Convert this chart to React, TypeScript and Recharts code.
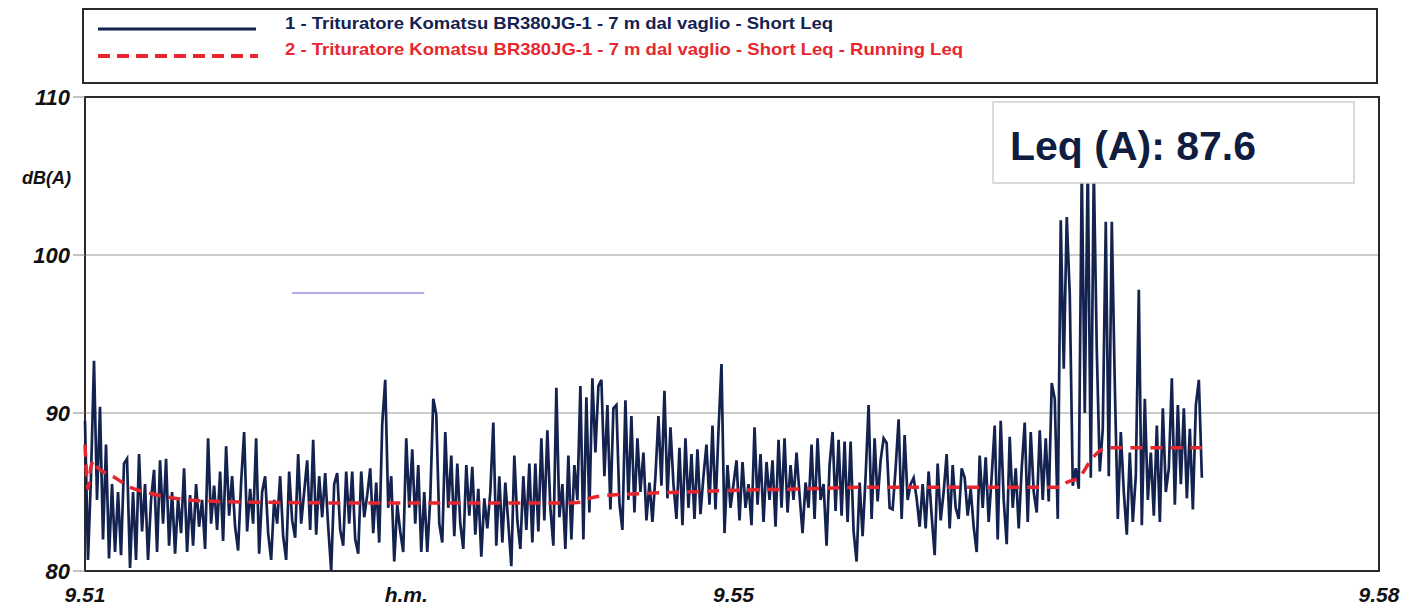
import { LineChart, Line, XAxis, YAxis, CartesianGrid, ReferenceArea, ReferenceLine } from 'recharts';

// Short Leq, one sample every ~3 px of the original plot (dB(A))
const shortLeq = [
  89.5, 80.7, 86, 93.3, 84.5, 90.4, 82, 88, 80.8, 85.5, 81.2, 85, 81, 86.8, 87.1, 80.2, 85, 80.7, 87.4, 82.5,
  85.5, 80.7, 84.5, 86.4, 81.2, 87, 83, 87.1, 81.6, 85, 81.1, 84.6, 82.4, 86.5, 81.2, 84.8, 81.6, 85.5, 82.8, 84.5,
  81.4, 88.4, 83, 85.4, 82.6, 86.3, 81.9, 87.9, 83.5, 86, 82.8, 81.3, 85.6, 88.8, 82.5, 85.2, 83, 88.4, 81.1, 85,
  86, 82.4, 80.7, 84.5, 83, 86, 82.2, 80.7, 86.3, 83.2, 82.1, 87.4, 83, 85, 87, 82.6, 88.3, 82.3, 86, 83.4,
  86.2, 82.8, 80, 85.5, 86.2, 82.6, 81.6, 86.3, 83, 86.3, 82, 81.1, 86.3, 83.4, 84.8, 86.5, 82.4, 85.6, 81.8, 89.3,
  92.1, 84, 86, 80.6, 84.2, 82.5, 81.2, 88.4, 84, 87.7, 83, 86.7, 81.2, 85, 81.2, 84.6, 90.9, 89.9, 83, 81.8,
  88.8, 84, 87.3, 82.2, 86.8, 83, 81.4, 86.7, 83.5, 86.6, 82.3, 85.2, 80.9, 84.6, 82.7, 85, 89.4, 81.6, 86, 81.8,
  85.6, 83, 80.3, 87.3, 83.2, 81.4, 86, 82.6, 86.8, 81.8, 86.8, 82.5, 88.4, 83.2, 88.9, 84, 81.6, 91.6, 83.4, 85.5,
  81.4, 87.3, 82, 86.7, 84.5, 91.7, 82, 91, 83.7, 92.2, 87.5, 91.7, 92.1, 86, 90.5, 83.9, 90.3, 90.5, 84.3, 82.6,
  90.8, 84.5, 89.8, 83.7, 88.4, 85, 87.5, 83.2, 85.6, 83.1, 86, 89.8, 85.4, 91.4, 84.6, 89.1, 85.5, 83.3, 87.8, 82.9,
  88.4, 84, 87.4, 83.3, 87.7, 83.6, 86, 88, 84.2, 89.2, 83.9, 88.9, 93.1, 82.4, 86.7, 84, 85.5, 87, 83.2, 86.9,
  84, 85.5, 82.9, 89.1, 84.2, 87.4, 83.1, 86.9, 84.5, 87, 82.8, 88.3, 84, 88.4, 83.7, 86.7, 84.5, 87.5, 84.8, 82.4,
  85.6, 84, 88, 83.3, 88.4, 84.5, 85.5, 81.6, 86.7, 88.8, 83.8, 88.3, 83.5, 88.2, 83.1, 88.2, 82.5, 80.6, 85.6, 82.2,
  86, 90.5, 83.3, 88.4, 84.4, 87, 88.4, 88.1, 84, 83.9, 86.5, 89.6, 83.3, 88.6, 84.5, 85.5, 85.9, 84.6, 82.8, 85.5,
  82.7, 86.3, 83.5, 81, 86.8, 83.2, 85, 87.4, 82.7, 86.7, 84, 83.3, 86.5, 85.9, 83.5, 85.2, 82.8, 81.2, 87.3, 84,
  87.2, 83.1, 86, 89.2, 82, 89.5, 84.5, 81.7, 88.5, 84, 86.5, 82.7, 86.5, 89.4, 83.1, 88.8, 85, 83.7, 88.9, 84.5,
  88.4, 84.4, 91.9, 90.9, 83.3, 102.2, 92.8, 102.4, 97.5, 85.4, 86.5, 85.2, 105.5, 90, 106, 85.9, 105.5, 94, 86.3, 89,
  102.1, 86, 102.1, 91.8, 83.3, 88.8, 85, 82.3, 87.5, 83.1, 86, 97.8, 82.9, 90.9, 84.5, 87.5, 83.5, 89.2, 83.1, 90.3,
  85, 86.5, 92.2, 84.2, 90.5, 85.5, 90.3, 84.6, 89, 83.9, 90.5, 92.1, 85.9,
];

// Running Leq, read at the sample indices where the curve bends
const runIdx = [0, 1, 2, 3, 4, 6, 10, 15, 20, 27, 35, 45, 60, 100, 160, 165, 168, 172, 185, 200, 215, 240, 260, 325, 327, 331, 335, 338, 341, 372];
const runVal = [88, 85.2, 86.6, 87, 86.6, 86.3, 85.9, 85.3, 85.0, 84.7, 84.5, 84.4, 84.35, 84.3, 84.3, 84.35, 84.6, 84.75, 84.9, 85.0, 85.1, 85.2, 85.3, 85.3, 85.6, 85.9, 87.0, 87.6, 87.8, 87.8];

const xTicks = [0, 107, 216, 431];
const xLabels = ['9.51', 'h.m.', '9.55', '9.58'];
const yTicks = [80, 90, 100, 110];

const legendLabels = [
  '1 - Trituratore Komatsu BR380JG-1  - 7 m dal vaglio - Short Leq',
  '2 - Trituratore Komatsu BR380JG-1  - 7 m dal vaglio - Short Leq - Running Leq',
];
const leqTotal = '87.6';

const NAVY = '#13224f';
const RED = '#e8262e';
const FONT = '"Liberation Sans", Arial, sans-serif';

const data = shortLeq.map((v, i) => {
  const k = runIdx.indexOf(i);
  return { t: i, short: v, running: k >= 0 ? runVal[k] : null };
});

function XTick(props: any) {
  const { x, y, payload } = props;
  const idx = xTicks.indexOf(payload.value);
  return (
    <text x={x} y={y + 31} textAnchor="middle" fontFamily={FONT} fontSize={21} fontWeight="bold" fontStyle="italic" fill="#111">
      {xLabels[idx]}
    </text>
  );
}

function YTick(props: any) {
  const { x, y, payload } = props;
  return (
    <text x={x} y={y} dy="0.36em" textAnchor="end" fontFamily={FONT} fontSize={22} fontWeight="bold" fontStyle="italic" fill="#111">
      {payload.value}
    </text>
  );
}

export default function App() {
  return (
    <div style={{ position: 'absolute', left: 0, top: 0, width: 1404, height: 607, background: '#fff' }}>
      <LineChart width={1404} height={607} data={data} margin={{ top: 97, right: 25, bottom: 0, left: 0 }}>
        <CartesianGrid horizontal vertical={false} stroke="#999" strokeWidth={1} horizontalValues={[90, 100]} />
        <XAxis
          dataKey="t"
          type="number"
          domain={[0, 431]}
          ticks={xTicks}
          interval={0}
          axisLine={false}
          tickLine={false}
          tickSize={0}
          tickMargin={0}
          height={36}
          tick={<XTick />}
        />
        <YAxis
          type="number"
          domain={[80, 110]}
          ticks={yTicks}
          interval={0}
          width={85}
          axisLine={false}
          tickLine={{ stroke: '#888' }}
          tickSize={12}
          tickMargin={3}
          tick={<YTick />}
        />
        <ReferenceLine
          segment={[{ x: 69, y: 97.6 }, { x: 113, y: 97.6 }]}
          stroke="#b9a9ea"
          strokeWidth={2}
        />
        <Line
          type="linear"
          dataKey="short"
          stroke={NAVY}
          strokeWidth={2.7}
          dot={false}
          isAnimationActive={false}
        />
        <Line
          type="monotone"
          dataKey="running"
          stroke={RED}
          strokeWidth={3.5}
          strokeDasharray="12 8"
          dot={false}
          connectNulls
          isAnimationActive={false}
        />
        <ReferenceArea x1={0} x2={431} y1={80} y2={110} fill="none" stroke="#2a2a2a" strokeWidth={2} />
      </LineChart>

      <svg width={1404} height={607} style={{ position: 'absolute', left: 0, top: 0, pointerEvents: 'none' }}>
        <rect x={83} y={9} width={1294} height={74} fill="#fff" stroke="#2a2a2a" strokeWidth={2} />
        <line x1={98} y1={29} x2={256} y2={29} stroke={NAVY} strokeWidth={3} />
        <text x={285} y={29} fontFamily={FONT} fontSize={17} fontWeight="bold" fill={NAVY} textLength={548} lengthAdjust="spacingAndGlyphs">
          {legendLabels[0]}
        </text>
        <line x1={98} y1={56} x2={258} y2={56} stroke={RED} strokeWidth={4} strokeDasharray="12 7" />
        <text x={285} y={55} fontFamily={FONT} fontSize={17} fontWeight="bold" fill={RED} textLength={678} lengthAdjust="spacingAndGlyphs">
          {legendLabels[1]}
        </text>

        <text x={22} y={184} fontFamily={FONT} fontSize={18} fontWeight="bold" fontStyle="italic" fill="#111">
          dB(A)
        </text>

        <rect x={993} y={102} width={361} height={81} fill="#fff" stroke="#cfcfcf" strokeWidth={1.5} />
        <text x={1010} y={160} fontFamily={FONT} fontSize={41} fontWeight="bold" fill="#0f1d40">
          {`Leq (A): ${leqTotal}`}
        </text>
      </svg>
    </div>
  );
}
